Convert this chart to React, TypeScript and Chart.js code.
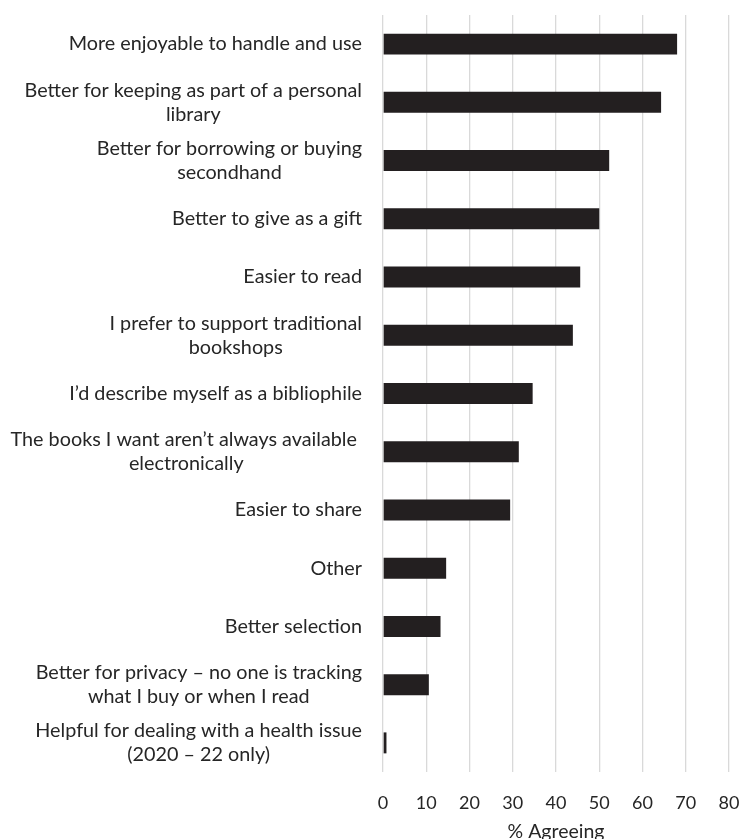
import React, { useEffect, useRef } from "react";
import { Chart, registerables } from "chart.js";

Chart.register(...registerables);

const categories: string[][] = [
  ["More enjoyable to handle and use"],
  ["Better for keeping as part of a personal", "library"],
  ["Better for borrowing or buying", "secondhand"],
  ["Better to give as a gift"],
  ["Easier to read"],
  ["I prefer to support traditional", "bookshops"],
  ["I\u2019d describe myself as a bibliophile"],
  ["The books I want aren\u2019t always available ", "electronically"],
  ["Easier to share"],
  ["Other"],
  ["Better selection"],
  ["Better for privacy \u2013 no one is tracking", "what I buy or when I read"],
  ["Helpful for dealing with a health issue", "(2020 \u2013 22 only)"],
];

const agreeing: number[] = [68, 64.3, 52.3, 50, 45.6, 43.9, 34.6, 31.4, 29.4, 14.6, 13.3, 10.6, 0.8];

const xTicks: number[] = [0, 10, 20, 30, 40, 50, 60, 70, 80];

const FONT = "Lato, 'Open Sans', sans-serif";
const TEXT = "#262626";

const labelPlugin = {
  id: "centeredLabels",
  afterDraw(chart: any) {
    const ys = chart.scales.y;
    const ctx = chart.ctx;
    ctx.save();
    ctx.font = `19.8px ${FONT}`;
    ctx.fillStyle = TEXT;
    ctx.textAlign = "center";
    ctx.textBaseline = "middle";
    const rightEdge = ys.right - 21;
    const lh = 24;
    categories.forEach((lines, i) => {
      const y = ys.getPixelForTick(i);
      const w = Math.max(...lines.map((l) => ctx.measureText(l).width));
      const cx = rightEdge - w / 2;
      const start = y - ((lines.length - 1) * lh) / 2;
      lines.forEach((l, j) => ctx.fillText(l, cx, start + j * lh));
    });
    ctx.restore();
  },
};

export default function App() {
  const ref = useRef<HTMLCanvasElement>(null);
  useEffect(() => {
    document.body.style.margin = "0";
    const chart = new Chart(ref.current!, {
      type: "bar",
      data: {
        labels: categories.map((c) => c.join(" ")),
        datasets: [
          {
            data: agreeing,
            backgroundColor: "#231f20",
            borderWidth: 0,
            barPercentage: 0.36,
            categoryPercentage: 1,
          },
        ],
      },
      options: {
        indexAxis: "y",
        animation: false,
        responsive: false,
        devicePixelRatio: 1,
        layout: { padding: { top: 15, right: 12, left: 0, bottom: 0 } },
        plugins: { legend: { display: false }, tooltip: { enabled: false } },
        scales: {
          x: {
            min: 0,
            max: 80,
            afterBuildTicks: (s: any) => {
              s.ticks = xTicks.map((v) => ({ value: v }));
            },
            afterFit: (s: any) => {
              s.height = 73;
              s.paddingLeft = 0;
              s.paddingRight = 0;
            },
            grid: { color: "#d9d9d9", lineWidth: 1.3, drawTicks: false },
            border: { display: false },
            ticks: { padding: 20, color: TEXT, font: { family: FONT, size: 18 } },
            title: {
              display: true,
              text: "% Agreeing",
              color: TEXT,
              font: { family: FONT, size: 19.5 },
              padding: { top: 8, bottom: 2 },
            },
          },
          y: {
            grid: { display: false },
            border: { display: false },
            ticks: { display: false },
            afterFit: (s: any) => {
              s.width = 383;
            },
          },
        },
      },
      plugins: [labelPlugin],
    });
    return () => chart.destroy();
  }, []);
  return (
    <div style={{ position: "absolute", left: 0, top: 0, width: 741, height: 845 }}>
      <canvas ref={ref} width={741} height={845} style={{ width: 741, height: 845 }} />
    </div>
  );
}
